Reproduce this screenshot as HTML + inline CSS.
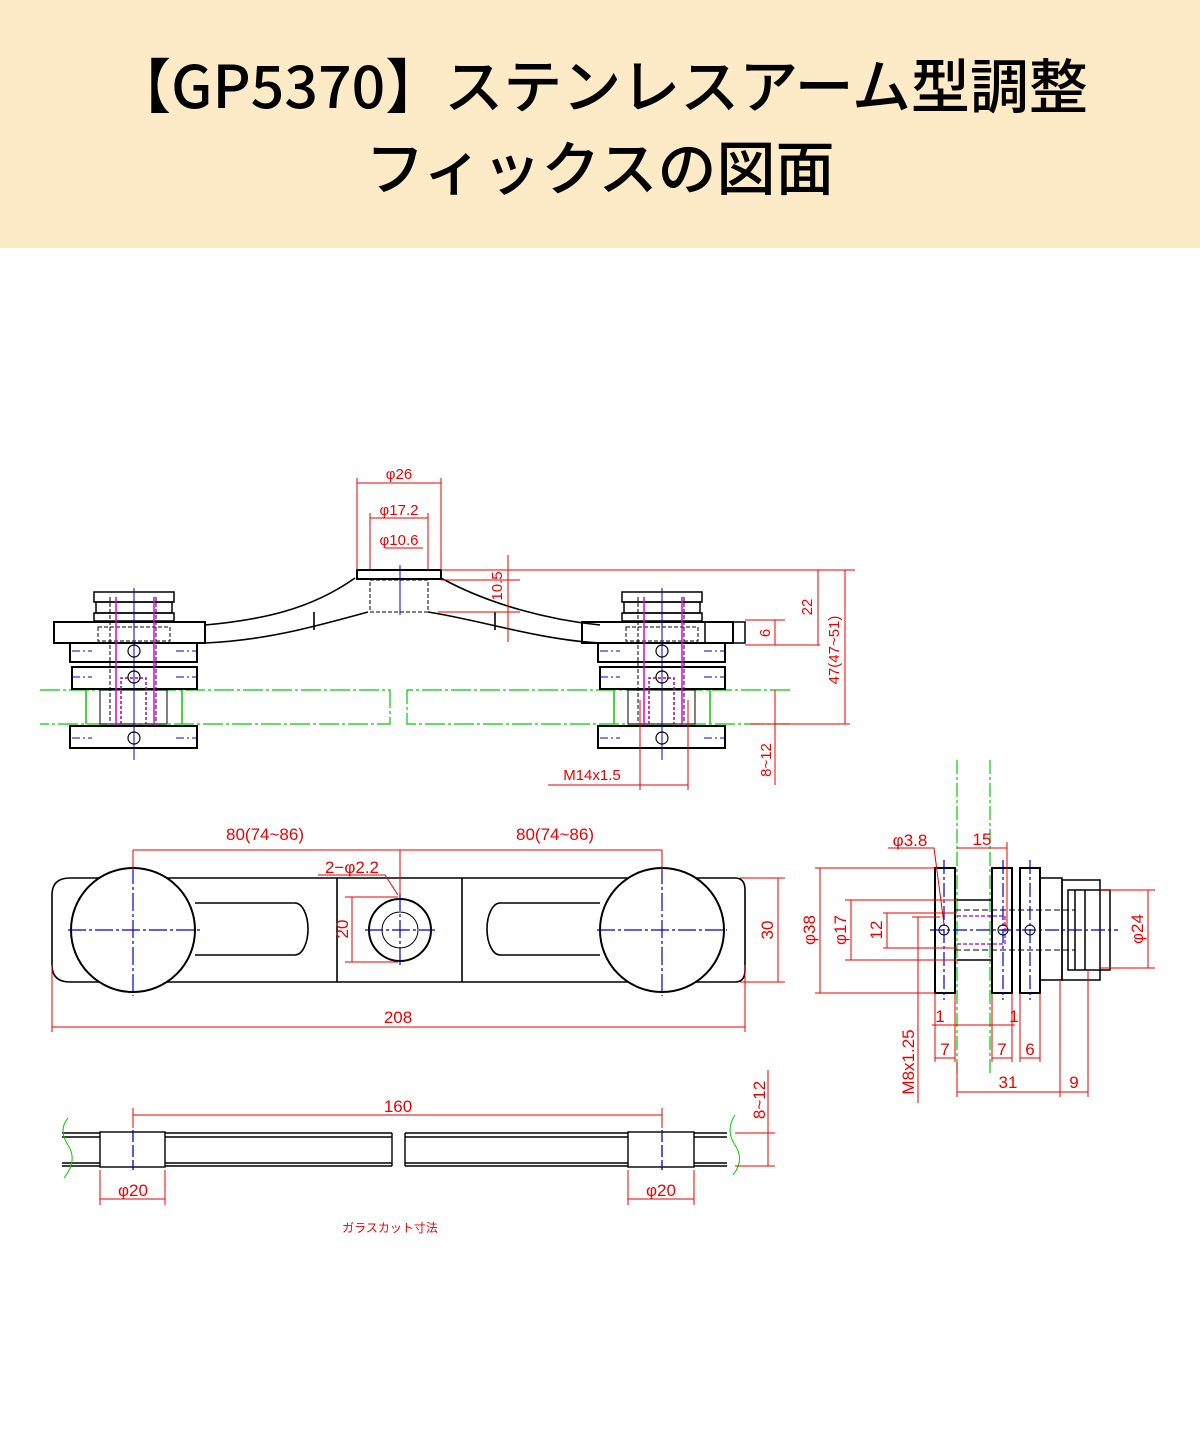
<!DOCTYPE html>
<html><head><meta charset="utf-8"><style>
html,body{margin:0;padding:0;background:#fff;width:1200px;height:1450px;overflow:hidden}
.hdr{position:absolute;left:0;top:0;width:1200px;height:248px;background:#fdebc8;text-align:center;font-family:"Noto Sans CJK JP",sans-serif;font-weight:500;font-size:59px;line-height:82px;color:#000;padding-top:42px;box-sizing:border-box}
svg{position:absolute;left:0;top:0}
</style></head><body>
<div class="hdr">【GP5370】ステンレスアーム型調整<br>フィックスの図面</div>
<svg width="1200" height="1450" viewBox="0 0 1200 1450" font-family="Liberation Sans, sans-serif">
<defs>
<g id="hub" fill="none" stroke="#000" stroke-width="1.5">
  <rect x="-40" y="592" width="80" height="10"/>
  <rect x="-38" y="602" width="76" height="11"/>
  <rect x="-40" y="613" width="80" height="8"/>
  <rect x="-80" y="622" width="151" height="21" stroke-width="2"/>
  <rect x="-36" y="627" width="72" height="14" stroke-dasharray="4 2" stroke-width="1"/>
  <rect x="-64" y="643" width="127" height="19" stroke-width="2"/>
  <rect x="-62" y="667" width="125" height="22" stroke-width="2"/>
  <rect x="-34" y="690" width="67" height="34" stroke-width="1"/>
  <rect x="-64" y="726" width="127" height="22" stroke-width="2"/>
  <line x1="-24" y1="597" x2="-24" y2="722" stroke-dasharray="4 2" stroke-width="1"/>
  <line x1="22" y1="597" x2="22" y2="722" stroke-dasharray="4 2" stroke-width="1"/>
  <line x1="-18" y1="597" x2="-18" y2="725" stroke="#d0d"/>
  <line x1="20" y1="597" x2="20" y2="725" stroke="#d0d"/>
  <path d="M-13 724 V678 H12 V724" stroke="#a0a" stroke-dasharray="3 2"/>
  <line x1="-48" y1="690" x2="-48" y2="724" stroke="#0c0"/>
  <line x1="48" y1="690" x2="48" y2="724" stroke="#0c0"/>
  <line x1="0" y1="588" x2="0" y2="760" stroke="#00c" stroke-width="1"/>
  <circle cx="0" cy="651" r="6" stroke-width="1.2"/>
  <circle cx="0" cy="677" r="6" stroke-width="1.2"/>
  <circle cx="0" cy="738" r="6" stroke-width="1.2"/>
  <g stroke="#00c" stroke-width="1" stroke-dasharray="8 3 2 3">
    <line x1="-62" y1="651" x2="-42" y2="651"/><line x1="42" y1="651" x2="62" y2="651"/>
    <line x1="-62" y1="677" x2="-42" y2="677"/><line x1="42" y1="677" x2="62" y2="677"/>
    <line x1="-62" y1="738" x2="-42" y2="738"/><line x1="42" y1="738" x2="62" y2="738"/>
  </g>
</g>
</defs>

<g stroke="#0c0" stroke-width="1.2" fill="none">
  <path d="M40 690 H390 V724 H40" stroke-dasharray="20 3 3 3"/>
  <path d="M790 690 H407 V724 H790" stroke-dasharray="20 3 3 3"/>
</g>

<g fill="none" stroke="#000" stroke-width="1.6">
  <path d="M205 625 C260 620 310 610 355 578"/>
  <path d="M205 643 C270 640 320 625 368 612"/>
  <path d="M441 578 C490 605 550 620 600 625"/>
  <path d="M428 612 C480 620 540 640 600 643"/>
  <line x1="314" y1="612" x2="314" y2="630"/>
  <line x1="495" y1="612" x2="495" y2="630"/>
  <rect x="357" y="570" width="84" height="9" stroke-width="2"/>
  <rect x="370" y="580" width="58" height="32" stroke-dasharray="4 2" stroke-width="1"/>
  <line x1="400" y1="565" x2="400" y2="615" stroke="#00c" stroke-width="1"/>
</g>
<use href="#hub" x="134"/>
<use href="#hub" x="662"/>
<rect x="705" y="622" width="40" height="21" fill="none" stroke="#000" stroke-width="1.5"/>

<g stroke="#e00" stroke-width="1" fill="none">
  <line x1="357" y1="483" x2="441" y2="483"/><line x1="357" y1="478" x2="357" y2="570"/><line x1="441" y1="478" x2="441" y2="570"/>
  <line x1="370" y1="518" x2="428" y2="518"/><line x1="370" y1="513" x2="370" y2="570"/><line x1="428" y1="513" x2="428" y2="570"/>
  <line x1="385" y1="548" x2="423" y2="548"/>
  <line x1="441" y1="570" x2="855" y2="570"/>
  <line x1="441" y1="580" x2="520" y2="580"/>
  <line x1="438" y1="612" x2="520" y2="612"/>
  <line x1="508" y1="555" x2="508" y2="642"/>
  <line x1="745" y1="620" x2="785" y2="620"/>
  <line x1="745" y1="645" x2="820" y2="645"/>
  <line x1="775" y1="620" x2="775" y2="645"/>
  <line x1="818" y1="570" x2="818" y2="645"/>
  <line x1="845" y1="570" x2="845" y2="724"/>
  <line x1="750" y1="724" x2="850" y2="724"/>
  <line x1="775" y1="690" x2="775" y2="785"/>
  <line x1="548" y1="785" x2="688" y2="785"/>
  <line x1="640" y1="700" x2="640" y2="790"/><line x1="688" y1="700" x2="688" y2="790"/>
</g>
<g fill="#e00" font-size="15" text-anchor="middle">
  <text x="399" y="479">φ26</text>
  <text x="399" y="515">φ17.2</text>
  <text x="399" y="545">φ10.6</text>
  <text transform="translate(502,586) rotate(-90)">10.5</text>
  <text transform="translate(770,633) rotate(-90)">6</text>
  <text transform="translate(812,607) rotate(-90)">22</text>
  <text transform="translate(839,650) rotate(-90)">47(47~51)</text>
  <text transform="translate(771,760) rotate(-90)">8~12</text>
  <text x="592" y="780">M14x1.5</text>
</g>

<g fill="none" stroke="#000" stroke-width="1.6">
  <path d="M70 878 H735 Q745 878 745 890 V970 Q745 982 735 982 H70 Q52 982 52 965 V895 Q52 878 70 878 Z"/>
  <line x1="337" y1="878" x2="337" y2="982"/><line x1="462" y1="878" x2="462" y2="982"/>
  <path d="M195 903 H295 A13 26 0 0 1 295 955 H195"/>
  <path d="M600 903 H500 A13 26 0 0 0 500 955 H600"/>
  <circle cx="133" cy="930" r="62" fill="#fff" stroke-width="2"/>
  <circle cx="662" cy="930" r="62" fill="#fff" stroke-width="2"/>
  <circle cx="400" cy="930" r="31" stroke-width="2"/>
  <circle cx="400" cy="930" r="18" stroke-width="1"/>
</g>
<g stroke="#00c" stroke-width="1.2" stroke-dasharray="18 3 3 3">
  <line x1="68" y1="930" x2="200" y2="930"/><line x1="133" y1="866" x2="133" y2="996"/>
  <line x1="597" y1="930" x2="727" y2="930"/><line x1="662" y1="866" x2="662" y2="996"/>
  <line x1="365" y1="930" x2="435" y2="930"/><line x1="400" y1="893" x2="400" y2="968"/>
</g>
<g stroke="#e00" stroke-width="1" fill="none">
  <line x1="133" y1="850" x2="133" y2="870"/><line x1="662" y1="850" x2="662" y2="870"/><line x1="400" y1="850" x2="400" y2="895"/>
  <line x1="133" y1="850" x2="662" y2="850"/>
  <path d="M318 875 H385 L398 895"/>
  <line x1="345" y1="897" x2="398" y2="897"/><line x1="345" y1="962" x2="398" y2="962"/>
  <line x1="352" y1="897" x2="352" y2="962"/>
  <line x1="740" y1="878" x2="785" y2="878"/><line x1="740" y1="982" x2="785" y2="982"/>
  <line x1="778" y1="878" x2="778" y2="982"/>
  <line x1="52" y1="965" x2="52" y2="1032"/><line x1="745" y1="965" x2="745" y2="1032"/>
  <line x1="52" y1="1027" x2="745" y2="1027"/>
</g>
<g fill="#e00" font-size="17" text-anchor="middle">
  <text x="265" y="840">80(74~86)</text>
  <text x="555" y="840">80(74~86)</text>
  <text x="352" y="873">2−φ2.2</text>
  <text transform="translate(348,929) rotate(-90)">20</text>
  <text transform="translate(773,930) rotate(-90)">30</text>
  <text x="398" y="1023">208</text>
</g>

<g fill="none" stroke="#000" stroke-width="1.4">
  <line x1="62" y1="1133" x2="392" y2="1133"/><line x1="62" y1="1137" x2="392" y2="1137"/>
  <line x1="62" y1="1163" x2="392" y2="1163"/><line x1="62" y1="1166" x2="392" y2="1166"/>
  <line x1="405" y1="1133" x2="727" y2="1133"/><line x1="405" y1="1137" x2="727" y2="1137"/>
  <line x1="405" y1="1163" x2="727" y2="1163"/><line x1="405" y1="1166" x2="727" y2="1166"/>
  <line x1="392" y1="1133" x2="392" y2="1166"/><line x1="405" y1="1133" x2="405" y2="1166"/>
  <rect x="100" y="1132" width="65" height="35" fill="#fff"/>
  <rect x="628" y="1132" width="66" height="35" fill="#fff"/>
</g>
<g stroke="#00c" stroke-width="1.3" stroke-dasharray="12 3"><line x1="133" y1="1130" x2="133" y2="1170"/><line x1="662" y1="1130" x2="662" y2="1170"/></g>
<g stroke="#0c0" stroke-width="1" fill="none">
  <path d="M68 1118 Q58 1130 68 1145 Q78 1160 64 1178"/>
  <path d="M735 1115 Q725 1130 735 1145 Q745 1160 733 1175"/>
</g>
<g stroke="#e00" stroke-width="1" fill="none">
  <line x1="133" y1="1108" x2="133" y2="1128"/><line x1="662" y1="1108" x2="662" y2="1128"/>
  <line x1="133" y1="1115" x2="662" y2="1115"/>
  <line x1="100" y1="1170" x2="100" y2="1205"/><line x1="165" y1="1170" x2="165" y2="1205"/>
  <line x1="100" y1="1199" x2="165" y2="1199"/>
  <line x1="628" y1="1170" x2="628" y2="1205"/><line x1="694" y1="1170" x2="694" y2="1205"/>
  <line x1="628" y1="1199" x2="694" y2="1199"/>
  <line x1="735" y1="1133" x2="775" y2="1133"/><line x1="735" y1="1166" x2="775" y2="1166"/>
  <line x1="768" y1="1070" x2="768" y2="1166"/>
</g>
<g fill="#e00" font-size="17" text-anchor="middle">
  <text x="398" y="1112">160</text>
  <text x="133" y="1196">φ20</text>
  <text x="661" y="1196">φ20</text>
  <text transform="translate(765,1100) rotate(-90)">8~12</text>
</g>
<text x="390" y="1232" fill="#e00" font-size="12" text-anchor="middle" font-family="Liberation Sans, Noto Sans CJK JP, sans-serif">ガラスカット寸法</text>

<g stroke="#0c0" stroke-width="1.2" stroke-dasharray="14 3 3 3"><line x1="957" y1="760" x2="957" y2="1075"/><line x1="990" y1="760" x2="990" y2="1075"/></g>
<g fill="none" stroke="#000" stroke-width="1.5">
  <rect x="935" y="868" width="20" height="125" stroke-width="2"/>
  <rect x="992" y="868" width="20" height="125" stroke-width="2"/>
  <rect x="1020" y="868" width="20" height="125" stroke-width="2"/>
  <rect x="1040" y="878" width="22" height="102"/>
  <rect x="1062" y="880" width="38" height="100"/>
  <rect x="1068" y="890" width="42" height="80"/>
  <line x1="1075" y1="890" x2="1075" y2="970"/><line x1="1085" y1="890" x2="1085" y2="970"/>
  <line x1="957" y1="900" x2="992" y2="900"/><line x1="957" y1="960" x2="992" y2="960"/>
  <g stroke-dasharray="6 3" stroke-width="1"><line x1="955" y1="910" x2="1075" y2="910"/><line x1="955" y1="950" x2="1075" y2="950"/></g>
  <path d="M957 916 H1005 V944 H957" stroke="#a0a" stroke-dasharray="4 2" stroke-width="1.2"/>
  <circle cx="944" cy="930" r="5" stroke-width="1"/><circle cx="1003" cy="930" r="5" stroke-width="1"/><circle cx="1030" cy="930" r="5" stroke-width="1"/>
</g>
<g stroke="#00c" stroke-width="1.2" stroke-dasharray="14 3 3 3">
  <line x1="930" y1="930" x2="1118" y2="930"/>
  <line x1="944" y1="860" x2="944" y2="1000"/><line x1="1003" y1="860" x2="1003" y2="1000"/><line x1="1030" y1="860" x2="1030" y2="1000"/>
</g>
<g stroke="#e00" stroke-width="1" fill="none">
  <line x1="815" y1="868" x2="935" y2="868"/><line x1="815" y1="993" x2="935" y2="993"/><line x1="820" y1="868" x2="820" y2="993"/>
  <line x1="845" y1="900" x2="957" y2="900"/><line x1="845" y1="960" x2="957" y2="960"/><line x1="851" y1="900" x2="851" y2="960"/>
  <line x1="883" y1="913" x2="957" y2="913"/><line x1="883" y1="948" x2="957" y2="948"/><line x1="887" y1="913" x2="887" y2="948"/>
  <line x1="918" y1="917" x2="918" y2="1103"/><line x1="912" y1="917" x2="940" y2="917"/>
  <path d="M888 848 H934 L944 924"/>
  <line x1="957" y1="848" x2="1007" y2="848"/><line x1="1007" y1="842" x2="1007" y2="930"/>
  <line x1="1100" y1="890" x2="1155" y2="890"/><line x1="1100" y1="968" x2="1155" y2="968"/><line x1="1148" y1="890" x2="1148" y2="968"/>
  <line x1="935" y1="993" x2="935" y2="1062"/><line x1="955" y1="993" x2="955" y2="1062"/>
  <line x1="992" y1="993" x2="992" y2="1062"/><line x1="1012" y1="993" x2="1012" y2="1062"/>
  <line x1="1020" y1="993" x2="1020" y2="1062"/><line x1="1040" y1="993" x2="1040" y2="1062"/>
  <line x1="932" y1="1025" x2="1015" y2="1025"/>
  <line x1="935" y1="1058" x2="955" y2="1058"/><line x1="992" y1="1058" x2="1012" y2="1058"/><line x1="1020" y1="1058" x2="1040" y2="1058"/>
  <line x1="957" y1="1062" x2="957" y2="1097"/><line x1="1060" y1="980" x2="1060" y2="1097"/><line x1="1088" y1="970" x2="1088" y2="1097"/>
  <line x1="957" y1="1092" x2="1088" y2="1092"/>
</g>
<g fill="#e00" font-size="17" text-anchor="middle">
  <text x="910" y="846">φ3.8</text>
  <text x="982" y="845">15</text>
  <text transform="translate(815,930) rotate(-90)">φ38</text>
  <text transform="translate(846,930) rotate(-90)">φ17</text>
  <text transform="translate(882,930) rotate(-90)">12</text>
  <text transform="translate(1143,929) rotate(-90)">φ24</text>
  <text x="940" y="1022">1</text><text x="1014" y="1022">1</text>
  <text x="945" y="1055">7</text><text x="1002" y="1055">7</text><text x="1030" y="1055">6</text>
  <text x="1008" y="1088">31</text><text x="1074" y="1088">9</text>
  <text transform="translate(914,1062) rotate(-90)">M8x1.25</text>
</g>
</svg>
</body></html>
